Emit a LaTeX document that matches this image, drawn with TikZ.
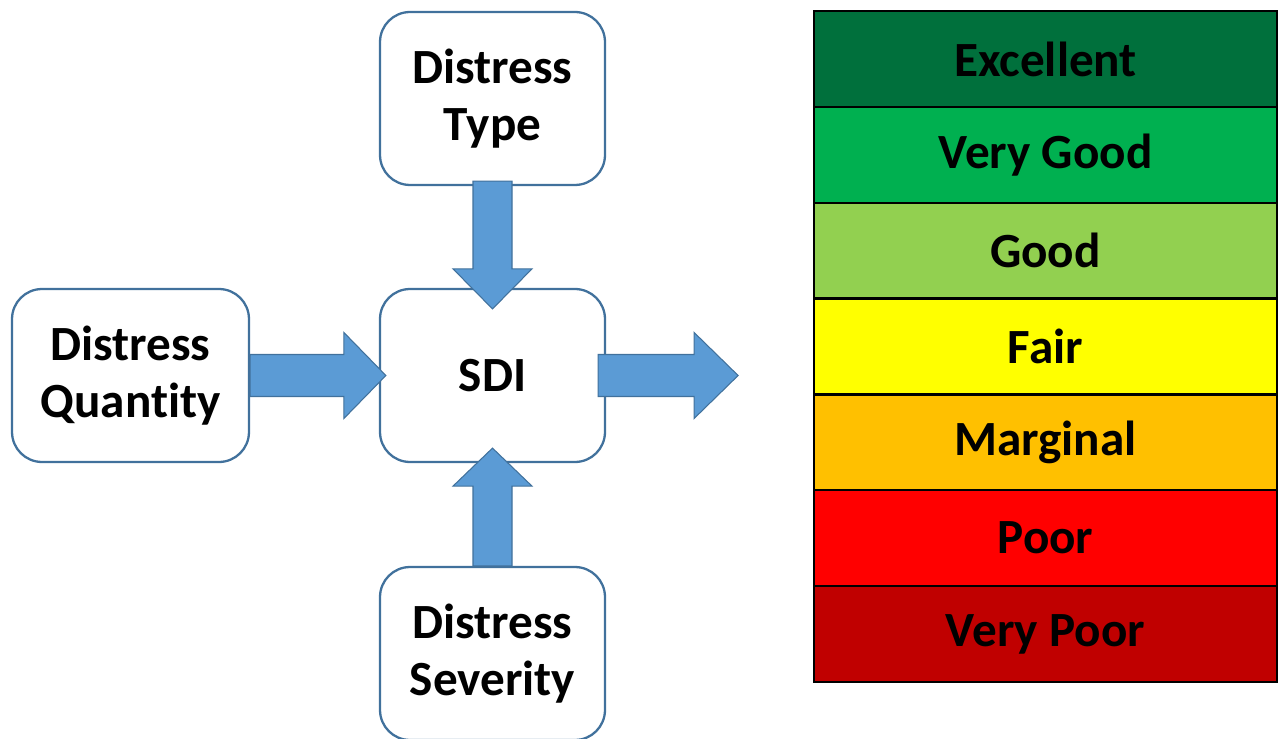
\documentclass[tikz,border=0pt]{standalone}
\usepackage{fontspec}
\setmainfont{Carlito}[Ligatures=NoCommon]
\usetikzlibrary{calc}

\definecolor{boxline}{RGB}{65,113,156}
\definecolor{arrowfill}{RGB}{91,155,213}
\definecolor{excellent}{RGB}{0,112,60}
\definecolor{verygood}{RGB}{0,176,80}
\definecolor{good}{RGB}{146,208,80}
\definecolor{fair}{RGB}{255,255,0}
\definecolor{marginal}{RGB}{255,192,0}
\definecolor{poor}{RGB}{255,0,0}
\definecolor{verypoor}{RGB}{192,0,0}

\tikzset{
  factor/.style={draw=boxline, line width=1.3pt, rounded corners=0.6cm, fill=white,
    minimum width=4.5cm, minimum height=3.46cm, align=center,
    font=\fontsize{28}{32}\selectfont\bfseries},
  fatarrow/.style={fill=arrowfill, draw=boxline, line width=0.6pt},
  rating/.style={draw=black, line width=1.3pt, minimum width=9.26cm, minimum height=1.918cm,
    font=\fontsize{28}{32}\selectfont\bfseries}
}

\begin{document}
\begin{tikzpicture}[x=0.02cm, y=0.02cm]
    \useasboundingbox (0,0) rectangle (1278,738);

    % the four boxes
    \node[factor] (type) at (492.5,639.5) {Distress\\Type};
    \node[factor] (sdi) at (492.5,362.5) {SDI};
    \node[factor, minimum width=4.74cm] (quantity) at (130.5,362.5) {Distress\\Quantity};
    \node[factor] (severity) at (492.5,84.5) {Distress\\Severity};

    % block arrows
    \filldraw[fatarrow] ($(type.south)+(-19.5,5)$) -- ($(sdi.north)+(-19.5,19)$) -- ($(sdi.north)+(-39.5,19)$)
        -- ($(sdi.north)+(0,-21)$) -- ($(sdi.north)+(39.5,19)$) -- ($(sdi.north)+(19.5,19)$)
        -- ($(type.south)+(19.5,5)$) -- cycle;
    \filldraw[fatarrow] ($(severity.north)+(-19.5,0)$) -- ($(sdi.south)+(-19.5,-23)$) -- ($(sdi.south)+(-39.5,-23)$)
        -- ($(sdi.south)+(0,15)$) -- ($(sdi.south)+(39.5,-23)$) -- ($(sdi.south)+(19.5,-23)$)
        -- ($(severity.north)+(19.5,0)$) -- cycle;
    \filldraw[fatarrow] ($(quantity.east)+(0,21)$) -- ($(sdi.west)+(-35,21)$) -- ($(sdi.west)+(-35,43)$)
        -- ($(sdi.west)+(7,0)$) -- ($(sdi.west)+(-35,-43)$) -- ($(sdi.west)+(-35,-21)$)
        -- ($(quantity.east)+(0,-21)$) -- cycle;
    \coordinate (out) at ($(sdi.east)+(132,0)$);
    \filldraw[fatarrow] ($(sdi.east)+(-8,21)$) -- ($(out)+(-44,21)$) -- ($(out)+(-44,43)$)
        -- (out) -- ($(out)+(-44,-43)$) -- ($(out)+(-44,-21)$)
        -- ($(sdi.east)+(-8,-21)$) -- cycle;

    % rating scale
    \foreach \lab/\col [count=\i] in {Excellent/excellent, Very Good/verygood, Good/good,
        Fair/fair, Marginal/marginal, Poor/poor, Very Poor/verypoor}
        \node[rating, fill=\col] (r\i) at (1045.5,{727-95.857*(\i-0.5)}) {\lab};
\end{tikzpicture}
\end{document}
